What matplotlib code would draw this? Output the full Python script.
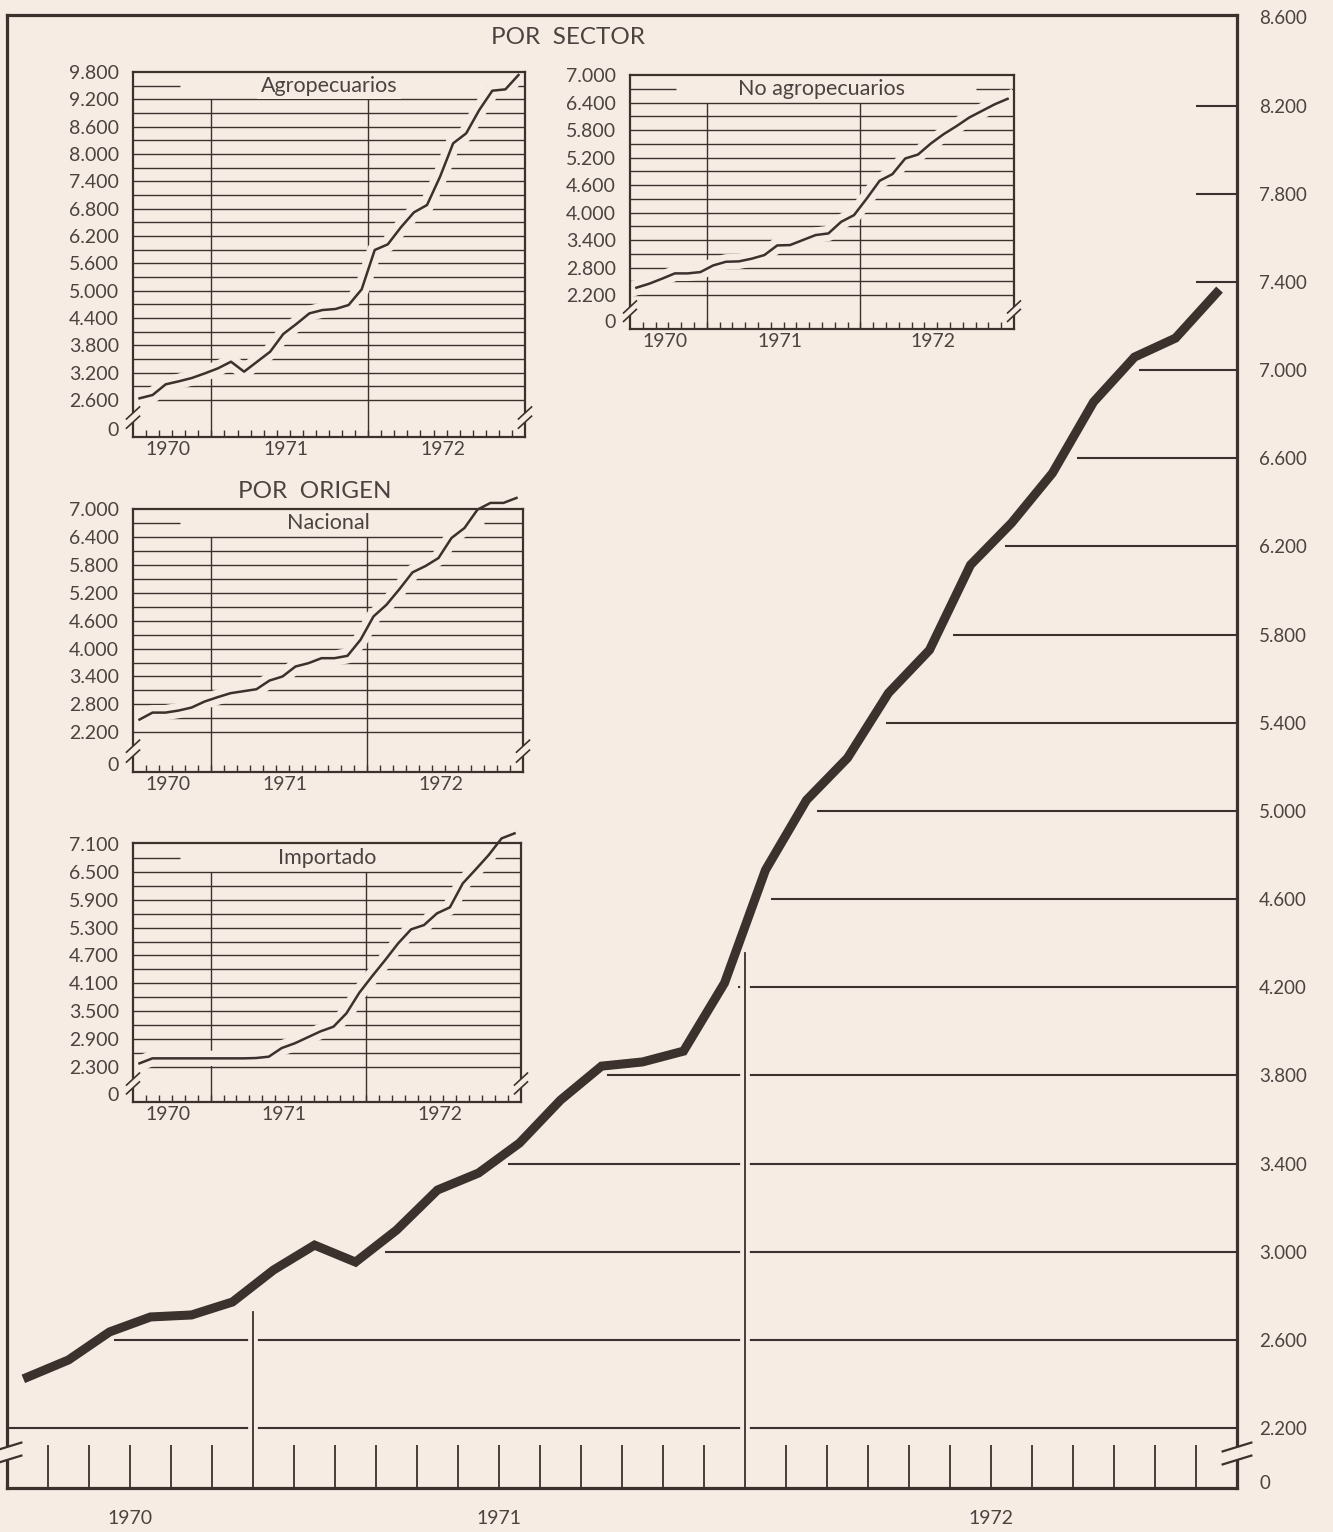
import numpy as np
import pandas as pd
import matplotlib
matplotlib.use("Agg")
import matplotlib.pyplot as plt
import matplotlib.patheffects as pe

FONDO = "#f6ece4"
TINTA = "#3b312d"
TEXTO = "#4b4340"
W, H = 1333, 1532

plt.rcParams["font.family"] = ["Lato", "DejaVu Sans"]

# --- datos (jul-1970 a dic-1972) ---
meses = pd.period_range("1970-07", "1972-12", freq="M").strftime("%Y-%m").tolist()
anios = ["1970", "1971", "1972"]

total = [2431, 2509, 2636, 2704, 2713, 2772, 2917, 3030, 2953, 3098,
         3280, 3357, 3493, 3688, 3842, 3861, 3910, 4219, 4732, 5049,
         5240, 5535, 5730, 6116, 6306, 6533, 6855, 7059, 7145, 7350]
agropecuarios = [2637, 2710, 2944, 3010, 3083, 3185, 3295, 3441, 3222, 3441,
                 3661, 4049, 4268, 4502, 4575, 4598, 4685, 5029, 5893, 6017,
                 6390, 6719, 6880, 7502, 8234, 8454, 8966, 9390, 9419, 9734]
no_agropecuarios = [2360, 2447, 2556, 2672, 2672, 2701, 2846, 2926, 2934, 2992,
                    3072, 3282, 3290, 3399, 3508, 3544, 3798, 3943, 4307, 4692,
                    4837, 5178, 5265, 5505, 5709, 5883, 6072, 6217, 6362, 6480]
nacional = [2473, 2623, 2623, 2667, 2731, 2860, 2954, 3040, 3083, 3126,
            3312, 3399, 3614, 3686, 3793, 3793, 3844, 4188, 4690, 4942,
            5279, 5638, 5774, 5946, 6377, 6592, 6987, 7131, 7131, 7238]
importado = [2372, 2480, 2480, 2480, 2480, 2480, 2480, 2480, 2480, 2487,
             2516, 2703, 2804, 2933, 3063, 3163, 3451, 3897, 4257, 4602,
             4962, 5264, 5357, 5609, 5739, 6257, 6559, 6868, 7228, 7336]

n = len(meses)
x = np.arange(n) + 0.5
cortes = [i for i in range(1, n) if meses[i].endswith("-01")]
centros = []
for a in anios:
    idx = [i for i, m in enumerate(meses) if m.startswith(a)]
    centros.append((idx[0] + idx[-1] + 1) / 2)


def fmt(v):
    return f"{v:,}".replace(",", ".")


def corte_eje(ax, xa, y1, y2, dx, dy, lw):
    # marca de eje cortado "//"
    ax.plot([xa, xa], [y2, y1], color=FONDO, lw=lw * 2.5, zorder=6, clip_on=False,
            solid_capstyle="butt")
    for y in (y1, y2):
        ax.plot([xa - dx, xa + dx], [y - dy, y + dy], color=TINTA, lw=lw,
                zorder=7, clip_on=False)


def inicio_grid(serie, v):
    s = np.array(serie, dtype=float)
    if (s > v).all():
        return 0
    if (s < v).all():
        return n - 1
    for i in range(n - 1, 0, -1):
        if (s[i - 1] - v) * (s[i] - v) <= 0:
            return x[i - 1] + (v - s[i - 1]) / (s[i] - s[i - 1]) + 0.4
    return 0


fig = plt.figure(figsize=(W / 100, H / 100), dpi=100, facecolor=FONDO)

# --- gráfico principal ---
ax = fig.add_axes([7 / W, 1 - 1488 / H, (1237 - 7) / W, (1488 - 15) / H])
ax.set_facecolor(FONDO)
ymin, ymax = 1928, 8611
ax.set_xlim(0, n)
ax.set_ylim(ymin, ymax)

for v in range(2200, 8600, 400):
    ax.hlines(v, inicio_grid(total, v), n, color=TINTA, lw=1.5, zorder=1)

for c in cortes:
    tope = np.interp(c, x, total) - 120
    ax.plot([c, c], [ymin, tope], color=TINTA, lw=1.3, zorder=2,
            path_effects=[pe.Stroke(linewidth=7, foreground=FONDO), pe.Normal()])

ax.plot(x, total, color=TINTA, lw=6.5, solid_joinstyle="miter", zorder=3)

ax.set_xticks(range(1, n))
ax.tick_params(axis="x", direction="in", length=31, width=1.3, color=TINTA,
               labelbottom=False)
for c, a in zip(centros, anios):
    ax.annotate(a, xy=(c, 0), xycoords=("data", "axes fraction"), xytext=(0, -16),
                textcoords="offset points", ha="center", va="top", fontsize=14,
                color=TEXTO)

cero = ymin + 6 / 0.2204
marcas = list(range(2200, 8601, 400))
ax.yaxis.tick_right()
ax.set_yticks(marcas + [cero])
ax.set_yticklabels([fmt(v) for v in marcas] + ["0"])
ax.tick_params(axis="y", length=0, pad=16, labelsize=13.5, labelcolor=TEXTO)
for s in ax.spines.values():
    s.set_color(TINTA)
    s.set_linewidth(2.3)
for xa in (0, n):
    corte_eje(ax, xa, 2114, 2055, 0.35, 20, 1.6)


# --- recuadros ---
def recuadro(px, serie, titulo, ylo, yhi, marcas_r, tope_grid):
    l, t, r, b = px
    hpx = b - t
    a = fig.add_axes([l / W, 1 - b / H, (r - l) / W, hpx / H])
    a.set_facecolor("none")
    a.set_xlim(0, n)
    a.set_ylim(ylo, yhi)
    upp = (yhi - ylo) / hpx

    for v in np.arange(marcas_r[0], tope_grid, 300):
        a.axhline(v, color=TINTA, lw=1.0, zorder=1)
    a.hlines(tope_grid, 0, 3.6, color=TINTA, lw=1.0, zorder=1)
    a.hlines(tope_grid, 27, n, color=TINTA, lw=1.0, zorder=1)
    a.vlines(cortes, ylo, tope_grid - 300, color=TINTA, lw=1.0, zorder=1.5)

    a.plot(x, serie, color=TINTA, lw=1.8, zorder=3, clip_on=False,
           path_effects=[pe.Stroke(linewidth=11, foreground=FONDO), pe.Normal()])
    a.text(n / 2, tope_grid, titulo, ha="center", va="center", fontsize=15.5,
           color=TEXTO, zorder=4,
           bbox=dict(boxstyle="square,pad=0.15", fc=FONDO, ec="none"))

    a.set_xticks(range(1, n))
    a.tick_params(axis="x", direction="in", length=5, width=1, color=TINTA,
                  labelbottom=False)
    for c, an in zip(centros, anios):
        a.annotate(an, xy=(c - 0.3, 0), xycoords=("data", "axes fraction"),
                   xytext=(0, -3), textcoords="offset points", ha="center",
                   va="top", fontsize=14, color=TEXTO)
    a.set_yticks(list(marcas_r) + [ylo + 8 * upp])
    a.set_yticklabels([fmt(v) for v in marcas_r] + ["0"])
    a.tick_params(axis="y", length=0, pad=10, labelsize=14, labelcolor=TEXTO)
    for s in a.spines.values():
        s.set_color(TINTA)
        s.set_linewidth(1.6)
        s.set_zorder(5)
    low = marcas_r[0]
    for xa in (0, n):
        corte_eje(a, xa, low - 0.35 * (low - ylo), low - 0.6 * (low - ylo),
                  0.5, 6 * upp, 1.2)


recuadro((133, 72, 525, 437), agropecuarios, "Agropecuarios", 1788, 9800,
         range(2600, 9801, 600), 9500)
recuadro((630, 75, 1014, 329), no_agropecuarios, "No agropecuarios", 1459, 7000,
         range(2200, 7001, 600), 6700)
recuadro((133, 509, 523, 772), nacional, "Nacional", 1346, 7000,
         range(2200, 7001, 600), 6700)
recuadro((133, 843, 521, 1102), importado, "Importado", 1538, 7128,
         range(2300, 7101, 600), 6800)

fig.text(568 / W, 1 - 38 / H, "POR  SECTOR", ha="center", va="center",
         fontsize=17.5, color=TEXTO)
fig.text(315 / W, 1 - 491 / H, "POR  ORIGEN", ha="center", va="center",
         fontsize=17.5, color=TEXTO)

fig.savefig("out.png", dpi=100, facecolor=FONDO)
